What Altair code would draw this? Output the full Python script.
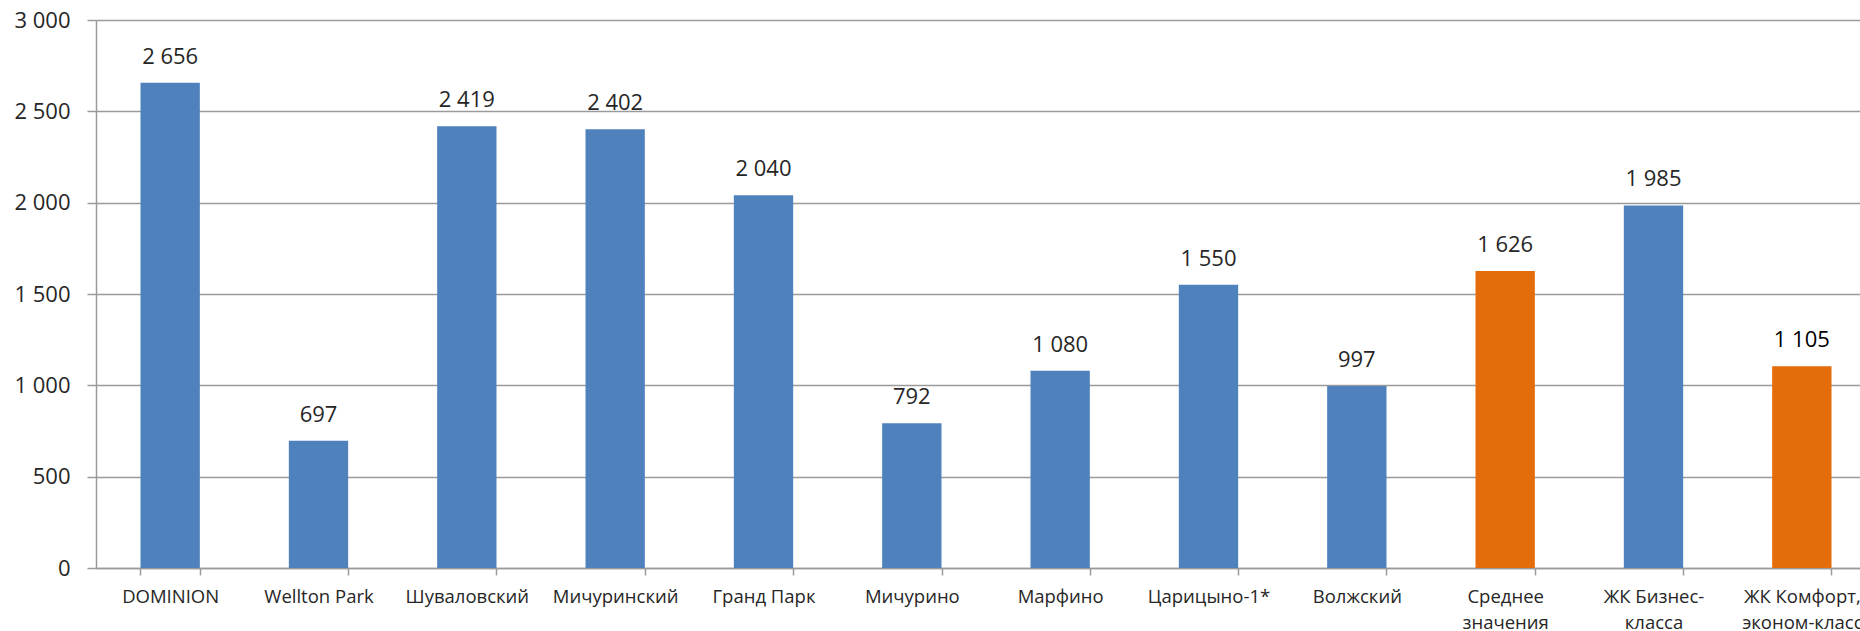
import altair as alt
import pandas as pd

categories = [
    "DOMINION", "Wellton Park", "Шуваловский", "Мичуринский", "Гранд Парк",
    "Мичурино", "Марфино", "Царицыно-1*", "Волжский",
    "Среднее\nзначения", "ЖК Бизнес-\nкласса", "ЖК Комфорт,\nэконом-класс",
]
values = [2656, 697, 2419, 2402, 2040, 792, 1080, 1550, 997, 1626, 1985, 1105]
groups = ["объект", "объект", "объект", "объект", "объект", "объект",
          "объект", "объект", "объект", "среднее", "объект", "среднее"]
y_ticks = [0, 500, 1000, 1500, 2000, 2500, 3000]

df = pd.DataFrame({"category": categories, "value": values, "group": groups})

FONT = "Open Sans"
GRID = "#9a9a9a"
TEXT = "#262626"

x_enc = alt.X(
    "category:N",
    sort=categories,
    scale=alt.Scale(range=[0, 1780], paddingInner=0.6, paddingOuter=0.3),
    axis=alt.Axis(
        title=None, labelAngle=0, tickBand="extent", tickSize=7, tickWidth=1.5,
        tickColor=GRID, domainColor=GRID, domainWidth=1.5,
        labelFont=FONT, labelFontSize=18.5, labelColor=TEXT, labelPadding=12,
        labelLineHeight=26, labelLimit=400,
        labelExpr="split(datum.label, '\\n')",
    ),
)
y_enc = alt.Y(
    "value:Q",
    scale=alt.Scale(domain=[0, 3000], nice=False),
    axis=alt.Axis(
        title=None, values=y_ticks, grid=True, gridColor=GRID, gridWidth=1.5,
        domainColor=GRID, domainWidth=1.5, tickColor=GRID, tickSize=9, tickWidth=1.5,
        labelFont=FONT, labelFontSize=22, labelColor=TEXT, labelPadding=17,
        labelExpr="replace(format(datum.value, ','), ',', ' ')",
    ),
)

base = alt.Chart(df).encode(x=x_enc, y=y_enc)

bars = base.mark_bar().encode(
    color=alt.Color("group:N", legend=None,
                    scale=alt.Scale(domain=["объект", "среднее"], range=["#4F81BD", "#E46C0A"])),
)

text = base.transform_calculate(
    lbl="replace(format(datum.value, ','), ',', ' ')"
).mark_text(font=FONT, fontSize=22, baseline="alphabetic", dy=-19).encode(
    text="lbl:N",
    color=alt.condition(alt.datum.category == categories[-1], alt.value("#000000"), alt.value(TEXT)),
)

chart = alt.layer(bars, text).properties(
    width=1764, height=548,
    autosize=alt.AutoSizeParams(type="none"),
    padding={"left": 96, "top": 20, "right": 0, "bottom": 63},
).configure_view(stroke=None)

chart.save("out.html", embed_options={"renderer": "svg", "actions": False})
